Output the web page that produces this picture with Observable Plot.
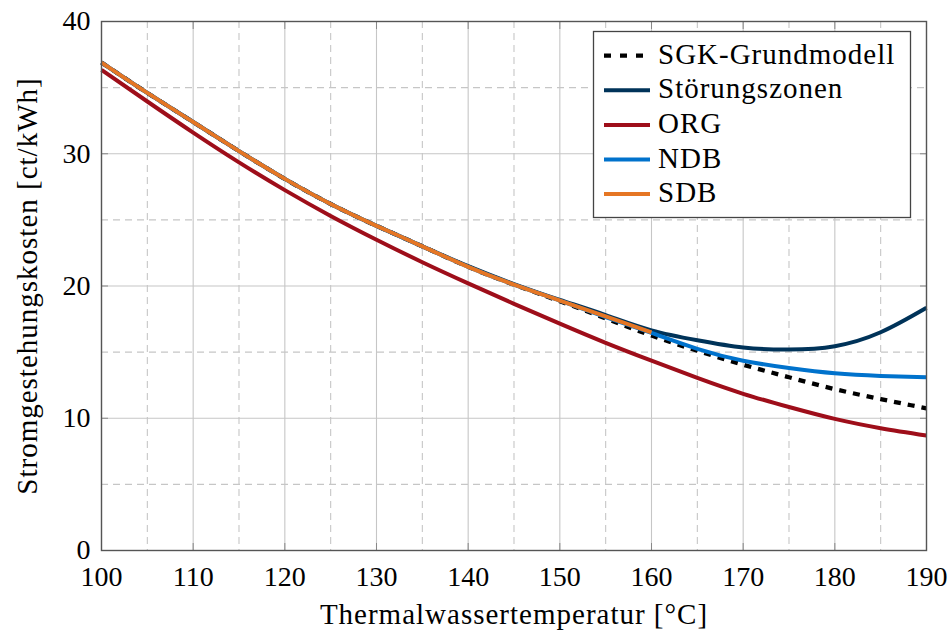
<!DOCTYPE html>
<html>
<head>
<meta charset="utf-8">
<script src="https://cdn.jsdelivr.net/npm/d3@7"></script>
<script src="https://cdn.jsdelivr.net/npm/@observablehq/plot@0.6"></script>
<style>
  html, body { margin: 0; padding: 0; background: white; }
  #chart { width: 952px; height: 637px; }
</style>
</head>
<body>
<div id="chart"></div>
<script>
// ---- data ----
const temps = [100,105,110,115,120,125,130,135,140,145,150,155,160,165,170,175,180,185,190];
const sgk   = [36.9,34.6,32.4,30.2,28.1,26.2,24.55,23.0,21.45,20.1,18.85,17.55,16.25,15.1,14.05,13.1,12.2,11.45,10.75];
const stoer = [36.9,34.6,32.4,30.2,28.1,26.2,24.55,23.0,21.5,20.15,18.95,17.8,16.65,15.9,15.35,15.2,15.45,16.5,18.35];
const org   = [36.35,33.95,31.6,29.35,27.25,25.3,23.5,21.8,20.2,18.65,17.15,15.7,14.35,13.05,11.85,10.85,9.95,9.25,8.7];
const ndb   = [36.9,34.6,32.4,30.2,28.1,26.2,24.55,23.0,21.45,20.1,18.9,17.65,16.45,15.25,14.35,13.8,13.4,13.2,13.1];
const sdbTemps = [100,105,110,115,120,125,130,135,140,145,150,155,160];
const sdb   = [36.9,34.6,32.4,30.2,28.1,26.2,24.55,23.0,21.45,20.1,18.9,17.7,16.5];

const majorX = [100,110,120,130,140,150,160,170,180,190];
const minorX = [105,115,125,135,145,155,165,175,185];
const majorY = [0,10,20,30,40];
const minorY = [5,15,25,35];

const seriesNames = ["SGK-Grundmodell","Störungszonen","ORG","NDB","SDB"];
const seriesColors = ["#000000","#003359","#9e0e1a","#0072cc","#e57624"];
const xLabel = "Thermalwassertemperatur [°C]";
const yLabel = "Stromgestehungskosten [ct/kWh]";

const toRows = (xs, ys) => xs.map((x, i) => ({x, y: ys[i]}));
const seriesData = [toRows(temps, sgk), toRows(temps, stoer), toRows(temps, org), toRows(temps, ndb), toRows(sdbTemps, sdb)];

const FONT = "Liberation Serif";
const FS = 28;
const LFS = 29;
const gridColor = "#c6c6c6";
const axisColor = "#555";

const lineMarks = seriesData.map((d, i) => Plot.line(d, {
  x: "x", y: "y", stroke: seriesColors[i], strokeWidth: i === 0 ? 4.3 : 4,
  strokeDasharray: i === 0 ? "7,7" : null, curve: "natural", strokeLinecap: "butt"
}));

const chart = Plot.plot({
  width: 952, height: 637,
  marginLeft: 101, marginRight: 26, marginTop: 21, marginBottom: 87,
  style: {fontFamily: FONT, fontSize: FS + "px", background: "white", color: "#000"},
  x: {domain: [100, 190]},
  y: {domain: [0, 40]},
  marks: [
    Plot.gridX(minorX, {stroke: gridColor, strokeOpacity: 1, strokeWidth: 1.1, strokeDasharray: "7,5"}),
    Plot.gridY(minorY, {stroke: gridColor, strokeOpacity: 1, strokeWidth: 1.1, strokeDasharray: "7,5"}),
    Plot.gridX(majorX, {stroke: gridColor, strokeOpacity: 1, strokeWidth: 1.1}),
    Plot.gridY(majorY, {stroke: gridColor, strokeOpacity: 1, strokeWidth: 1.1}),
    Plot.axisX(majorX, {anchor: "bottom", tickSize: -7, stroke: "#888", fill: "none", label: null}),
    Plot.axisX(majorX, {anchor: "top", tickSize: -7, stroke: "#888", fill: "none", label: null}),
    Plot.axisY(majorY, {anchor: "left", tickSize: -7, stroke: "#888", fill: "none", label: null}),
    Plot.axisY(majorY, {anchor: "right", tickSize: -7, stroke: "#888", fill: "none", label: null}),
    Plot.axisX(majorX, {anchor: "bottom", tickSize: 0, tickPadding: 16, fontSize: FS, label: null, fill: "#000"}),
    Plot.axisY(majorY, {anchor: "left", tickSize: 0, tickPadding: 11, fontSize: FS, label: null, fill: "#000"}),
    ...lineMarks,
    Plot.frame({stroke: axisColor, strokeWidth: 1.4}),
    Plot.text([xLabel], {frameAnchor: "bottom", dy: 64, lineAnchor: "middle", fontSize: LFS, fill: "#000"}),
    Plot.text([yLabel], {frameAnchor: "left", dx: -74, rotate: -90, lineAnchor: "middle", textAnchor: "middle", fontSize: LFS, fill: "#000"})
  ]
});

// letter spacing for the axis titles (Computer Modern is wider than Liberation Serif)
d3.select(chart).selectAll("text").filter(function() {
  const t = this.textContent; return t === xLabel || t === yLabel;
}).style("letter-spacing", "1px");

// legend (inside plot, upper right)
const svg = d3.select(chart);
const lg = svg.append("g").attr("font-family", FONT).attr("font-size", LFS).attr("text-anchor", "start");
lg.append("rect").attr("x", 593.5).attr("y", 31.5).attr("width", 317).attr("height", 186)
  .attr("fill", "white").attr("stroke", "#444").attr("stroke-width", 1.3);
seriesNames.forEach((name, i) => {
  const yy = 55.7 + i * 34.6;
  lg.append("line").attr("x1", 604).attr("x2", 650).attr("y1", yy).attr("y2", yy)
    .attr("stroke", seriesColors[i]).attr("stroke-width", i === 0 ? 4.3 : 4)
    .attr("stroke-dasharray", i === 0 ? "7,9" : null);
  lg.append("text").attr("x", 658).attr("y", yy + 8).attr("fill", "#000")
    .attr("text-anchor", "start").style("letter-spacing", "1px").text(name);
});

document.getElementById("chart").appendChild(chart);
</script>
</body>
</html>
